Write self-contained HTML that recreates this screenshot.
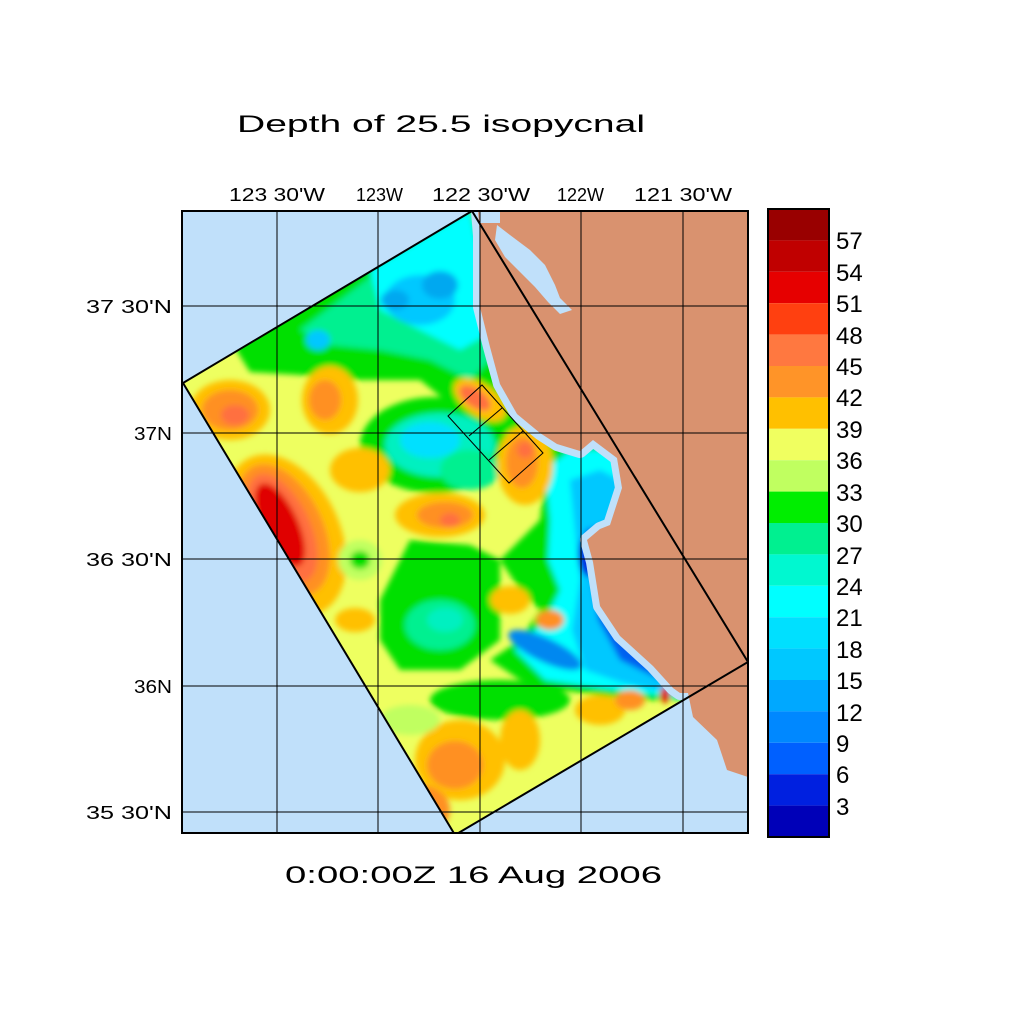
<!DOCTYPE html>
<html><head><meta charset="utf-8"><style>
html,body{margin:0;padding:0;background:#fff;width:1024px;height:1024px;overflow:hidden}
svg text{font-family:"Liberation Sans",sans-serif;fill:#000}
</style></head><body>
<svg width="1024" height="1024" viewBox="0 0 1024 1024" xmlns="http://www.w3.org/2000/svg">
<defs>
<clipPath id="dom"><polygon points="183,383 472,211 748,662 455,835"/></clipPath>
<clipPath id="plot"><rect x="182" y="211" width="566" height="622"/></clipPath>
<filter id="bl" x="-20%" y="-20%" width="140%" height="140%"><feGaussianBlur stdDeviation="3"/></filter>
</defs>
<text x="237" y="132" font-size="24" textLength="408" lengthAdjust="spacingAndGlyphs">Depth of 25.5 isopycnal</text>
<text x="229" y="201" font-size="18" textLength="96" lengthAdjust="spacingAndGlyphs">123 30'W</text>
<text x="356" y="201" font-size="18" textLength="47" lengthAdjust="spacingAndGlyphs">123W</text>
<text x="432" y="201" font-size="18" textLength="98" lengthAdjust="spacingAndGlyphs">122 30'W</text>
<text x="557" y="201" font-size="18" textLength="47" lengthAdjust="spacingAndGlyphs">122W</text>
<text x="634" y="201" font-size="18" textLength="98" lengthAdjust="spacingAndGlyphs">121 30'W</text>
<text x="86" y="313" font-size="18" textLength="86" lengthAdjust="spacingAndGlyphs">37 30'N</text>
<text x="134" y="440" font-size="18" textLength="38" lengthAdjust="spacingAndGlyphs">37N</text>
<text x="86" y="566" font-size="18" textLength="86" lengthAdjust="spacingAndGlyphs">36 30'N</text>
<text x="134" y="693" font-size="18" textLength="38" lengthAdjust="spacingAndGlyphs">36N</text>
<text x="86" y="819" font-size="18" textLength="86" lengthAdjust="spacingAndGlyphs">35 30'N</text>
<text x="285" y="883" font-size="24" textLength="377" lengthAdjust="spacingAndGlyphs">0:00:00Z  16 Aug 2006</text>

<rect x="182" y="211" width="566" height="622" fill="#c0e0fa"/>
<g clip-path="url(#plot)">
<g clip-path="url(#dom)">
<rect x="180" y="200" width="580" height="640" fill="#eeff60"/>
<g filter="url(#bl)">
<polygon points="230,340 300,305 380,260 470,205 520,380 540,440 470,420 420,380 360,380 300,375 250,372" fill="#00e000"/>
<polygon points="300,330 380,270 470,210 500,350 470,380 430,360 380,350 330,345" fill="#00f090"/>
<polygon points="370,270 470,210 495,330 460,350 420,330 380,310" fill="#00ffff"/>
<ellipse cx="420" cy="300" rx="35" ry="25" fill="#00c8ff"/>
<ellipse cx="440" cy="285" rx="18" ry="14" fill="#00a8f0"/>
<ellipse cx="395" cy="300" rx="14" ry="10" fill="#00a8f0"/>
<ellipse cx="318" cy="340" rx="12" ry="10" fill="#00c8ff"/>
<ellipse cx="435" cy="445" rx="75" ry="48" fill="#00e000"/>
<ellipse cx="440" cy="445" rx="55" ry="32" fill="#00f0c0"/>
<ellipse cx="430" cy="440" rx="30" ry="18" fill="#00e0ff"/>
<ellipse cx="470" cy="470" rx="30" ry="20" fill="#00f090"/>
<ellipse cx="480" cy="400" rx="30" ry="16" fill="#ffc000" transform="rotate(35 480 400)"/>
<ellipse cx="475" cy="398" rx="18" ry="9" fill="#ff7040" transform="rotate(35 475 398)"/>
<ellipse cx="230" cy="410" rx="40" ry="30" fill="#ffc000"/>
<ellipse cx="230" cy="410" rx="28" ry="20" fill="#ff9020"/>
<ellipse cx="235" cy="415" rx="14" ry="10" fill="#ff7040"/>
<ellipse cx="330" cy="400" rx="28" ry="34" fill="#ffc000"/>
<ellipse cx="325" cy="400" rx="16" ry="20" fill="#ff9020"/>
<ellipse cx="285" cy="535" rx="55" ry="85" fill="#ffc000" transform="rotate(-25 285 535)"/>
<ellipse cx="283" cy="530" rx="40" ry="70" fill="#ff9020" transform="rotate(-25 283 530)"/>
<ellipse cx="282" cy="528" rx="28" ry="58" fill="#ff7040" transform="rotate(-25 282 528)"/>
<ellipse cx="280" cy="525" rx="18" ry="45" fill="#e00000" transform="rotate(-25 280 525)"/>
<ellipse cx="360" cy="470" rx="30" ry="22" fill="#ffc000"/>
<ellipse cx="440" cy="515" rx="45" ry="22" fill="#ffc000"/>
<ellipse cx="445" cy="515" rx="28" ry="13" fill="#ff9020"/>
<ellipse cx="450" cy="520" rx="10" ry="7" fill="#ff7040"/>
<ellipse cx="360" cy="560" rx="22" ry="20" fill="#c0ff60"/>
<ellipse cx="360" cy="560" rx="10" ry="9" fill="#00e000"/>
<polygon points="380,600 410,540 470,545 500,560 500,640 460,670 400,670 380,640" fill="#00e000"/>
<ellipse cx="440" cy="625" rx="35" ry="25" fill="#00f090"/>
<ellipse cx="445" cy="620" rx="18" ry="12" fill="#00f0c0"/>
<ellipse cx="355" cy="620" rx="20" ry="12" fill="#ffc000"/>
<polygon points="520,440 560,440 620,440 680,500 700,700 640,700 560,690 520,680 490,660 520,640 540,610 520,590 500,560 540,520 545,480" fill="#00e000"/>
<polygon points="545,470 570,450 640,450 690,520 700,700 600,688 545,680 515,650 545,620 560,590 548,560 550,520" fill="#00ffff"/>
<polygon points="570,480 600,470 660,500 700,600 700,700 620,682 585,670 572,630 580,580 575,530" fill="#00c8ff"/>
<polygon points="585,530 620,520 680,600 700,690 660,680 620,660 598,620 590,570" fill="#0060f0"/>
<ellipse cx="590" cy="555" rx="12" ry="22" fill="#0030e0"/>
<ellipse cx="545" cy="650" rx="40" ry="12" fill="#0088f0" transform="rotate(25 545 650)"/>
<ellipse cx="525" cy="465" rx="28" ry="40" fill="#ffc000"/>
<ellipse cx="522" cy="462" rx="16" ry="26" fill="#ff9020"/>
<ellipse cx="525" cy="450" rx="8" ry="8" fill="#ff7040"/>
<ellipse cx="510" cy="600" rx="20" ry="14" fill="#ffc000"/>
<ellipse cx="550" cy="620" rx="14" ry="10" fill="#ff9020"/>
<ellipse cx="500" cy="700" rx="70" ry="20" fill="#00e000"/>
<ellipse cx="460" cy="760" rx="45" ry="40" fill="#ffc000"/>
<ellipse cx="455" cy="765" rx="28" ry="24" fill="#ff9020"/>
<ellipse cx="520" cy="740" rx="20" ry="30" fill="#ffc000"/>
<ellipse cx="600" cy="710" rx="25" ry="15" fill="#ffc000"/>
<ellipse cx="630" cy="700" rx="15" ry="10" fill="#ff9020"/>
<ellipse cx="665" cy="695" rx="5" ry="8" fill="#e00000"/>
<ellipse cx="410" cy="720" rx="30" ry="15" fill="#c0ff60"/>
<ellipse cx="420" cy="810" rx="30" ry="25" fill="#ff9020"/>
</g>
</g>
<path d="M478,211 L480,236 L480,307 L490,347 L500,384 L517,414 L540,433 L557,444 L580,451 L593,440 L617,458 L622,488 L610,525 L600,529 L587,540 L593,562 L600,606 L620,636 L653,666 L673,688 L680,693 L688,693 L693,717 L717,740 L727,770 L748,777" fill="none" stroke="#c0e0fa" stroke-width="14" stroke-linejoin="round"/>
<path d="M478,211 L480,236 L480,307 L490,347 L500,384 L517,414 L540,433 L557,444 L580,451 L593,440 L617,458 L622,488 L610,525 L600,529 L587,540 L593,562 L600,606 L620,636 L653,666 L673,688 L680,693 L688,693 L693,717 L717,740 L727,770 L748,777 L760,777 L760,200 Z" fill="#d9926f"/>
<polygon points="497,225 510,235 530,250 545,265 555,285 560,298 572,310 560,314 548,302 535,287 520,272 505,257 495,240" fill="#c0e0fa"/>
<rect x="480" y="211" width="20" height="12" fill="#c0e0fa"/>
<g stroke="#000" stroke-width="1">
<line x1="277" y1="211" x2="277" y2="833"/><line x1="378" y1="211" x2="378" y2="833"/><line x1="480" y1="211" x2="480" y2="833"/><line x1="581" y1="211" x2="581" y2="833"/><line x1="683" y1="211" x2="683" y2="833"/>
<line x1="182" y1="306" x2="748" y2="306"/><line x1="182" y1="433" x2="748" y2="433"/><line x1="182" y1="559" x2="748" y2="559"/><line x1="182" y1="686" x2="748" y2="686"/><line x1="182" y1="812" x2="748" y2="812"/>
</g>
<polygon points="183,383 472,211 748,662 455,835" fill="none" stroke="#000" stroke-width="2"/>
<g fill="none" stroke="#000" stroke-width="1">
<polygon points="448,416 482,385 543,453 509,483"/>
<line x1="469" y1="436" x2="502" y2="408"/><line x1="489" y1="460" x2="523" y2="431"/>
</g>
</g>
<rect x="182" y="211" width="566" height="622" fill="none" stroke="#000" stroke-width="2"/>

<g>
<rect x="768" y="209.0" width="61" height="31.4" fill="#990000"/>
<rect x="768" y="240.4" width="61" height="31.4" fill="#c00000"/>
<rect x="768" y="271.8" width="61" height="31.4" fill="#e60000"/>
<rect x="768" y="303.2" width="61" height="31.4" fill="#ff4010"/>
<rect x="768" y="334.6" width="61" height="31.4" fill="#ff7840"/>
<rect x="768" y="366.0" width="61" height="31.4" fill="#ff9428"/>
<rect x="768" y="397.4" width="61" height="31.4" fill="#ffc000"/>
<rect x="768" y="428.8" width="61" height="31.4" fill="#f0ff60"/>
<rect x="768" y="460.2" width="61" height="31.4" fill="#c0ff60"/>
<rect x="768" y="491.6" width="61" height="31.4" fill="#00ee00"/>
<rect x="768" y="523.0" width="61" height="31.4" fill="#00f090"/>
<rect x="768" y="554.4" width="61" height="31.4" fill="#00f8d0"/>
<rect x="768" y="585.8" width="61" height="31.4" fill="#00ffff"/>
<rect x="768" y="617.2" width="61" height="31.4" fill="#00e0ff"/>
<rect x="768" y="648.6" width="61" height="31.4" fill="#00c8ff"/>
<rect x="768" y="680.0" width="61" height="31.4" fill="#00a8ff"/>
<rect x="768" y="711.4" width="61" height="31.4" fill="#0088ff"/>
<rect x="768" y="742.8" width="61" height="31.4" fill="#0060ff"/>
<rect x="768" y="774.2" width="61" height="31.4" fill="#0020e0"/>
<rect x="768" y="805.6" width="61" height="31.4" fill="#0000b8"/>
<rect x="768" y="209" width="61" height="628" fill="none" stroke="#000" stroke-width="2"/>
</g>
<g font-size="24">
<text x="836" y="249">57</text><text x="836" y="281">54</text><text x="836" y="312">51</text><text x="836" y="344">48</text><text x="836" y="375">45</text><text x="836" y="406">42</text><text x="836" y="438">39</text><text x="836" y="469">36</text><text x="836" y="501">33</text><text x="836" y="532">30</text><text x="836" y="564">27</text><text x="836" y="595">24</text><text x="836" y="626">21</text><text x="836" y="658">18</text><text x="836" y="689">15</text><text x="836" y="721">12</text><text x="836" y="752">9</text><text x="836" y="783">6</text><text x="836" y="815">3</text>
</g>
</svg>
</body></html>
